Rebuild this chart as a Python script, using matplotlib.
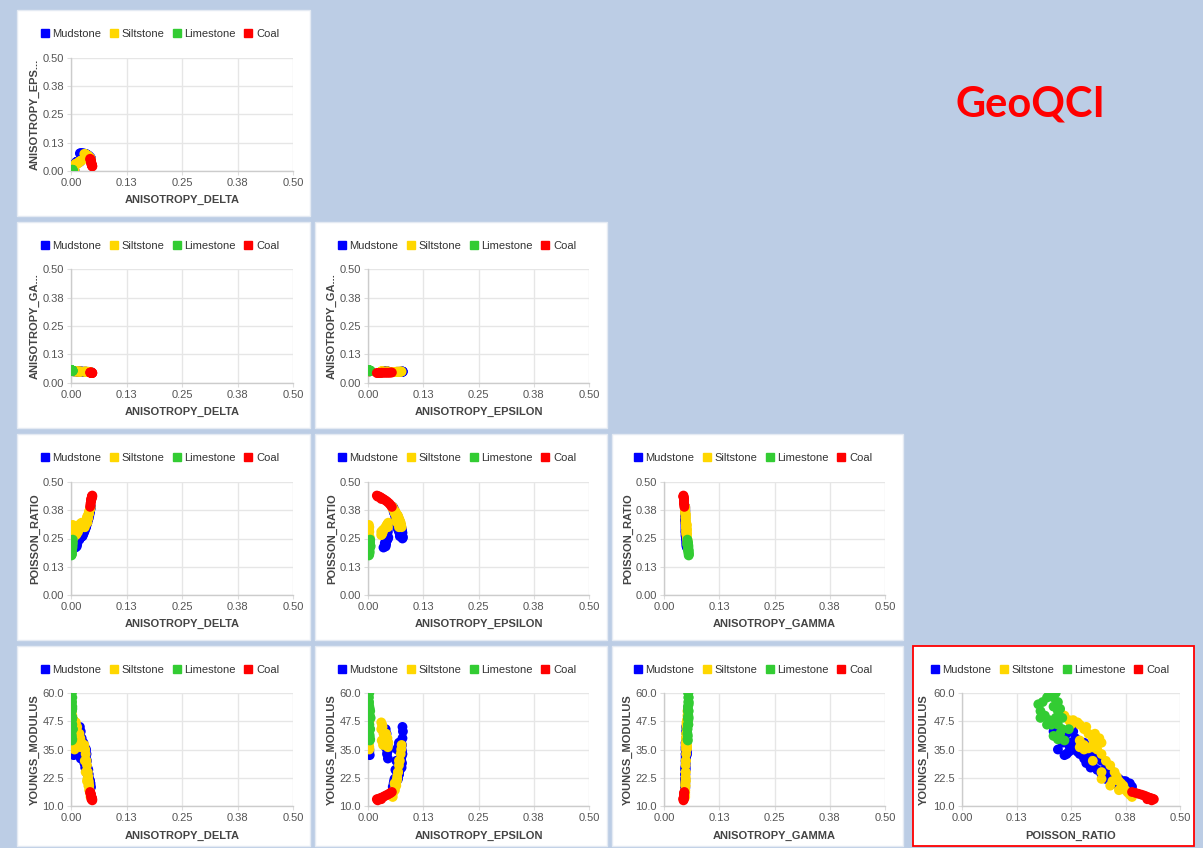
import matplotlib
matplotlib.use("Agg")
import matplotlib.pyplot as plt
from matplotlib.lines import Line2D
from matplotlib.patches import Rectangle

plt.rcParams["font.family"] = ["Liberation Sans", "DejaVu Sans"]

# variables in matrix order
VARIABLES = ["ANISOTROPY_DELTA", "ANISOTROPY_EPSILON", "ANISOTROPY_GAMMA",
             "POISSON_RATIO", "YOUNGS_MODULUS"]
Y_TITLES = ["ANISOTROPY_DELTA", "ANISOTROPY_EPS...", "ANISOTROPY_GA...",
            "POISSON_RATIO", "YOUNGS_MODULUS"]
LITHOLOGIES = ["Mudstone", "Siltstone", "Limestone", "Coal"]
COLORS = ["#0000ff", "#ffd700", "#33cc33", "#ff0000"]

ANIS_TICKS = [0.0, 0.125, 0.25, 0.375, 0.5]
ANIS_LABELS = ["0.00", "0.13", "0.25", "0.38", "0.50"]
YM_TICKS = [10.0, 22.5, 35.0, 47.5, 60.0]
YM_LABELS = ["10.0", "22.5", "35.0", "47.5", "60.0"]

# Mudstone samples
MUD_DELTA = [0.002, 0.004, 0.006, 0.008, 0.010, 0.012,
             0.012, 0.015, 0.018, 0.020, 0.016, 0.022, 0.014, 0.018,
             0.020, 0.022, 0.024, 0.026, 0.028, 0.030, 0.032, 0.033, 0.035,
             0.037, 0.038, 0.040, 0.041, 0.042, 0.043, 0.044,
             0.034, 0.036, 0.039, 0.041, 0.043, 0.028, 0.031,
             0.021, 0.019, 0.013, 0.014, 0.024, 0.027, 0.030, 0.032, 0.034,
             0.035, 0.037, 0.038, 0.040, 0.041, 0.043, 0.044, 0.045, 0.026, 0.029]
MUD_EPS = [0.002, 0.003, 0.004, 0.003, 0.035, 0.038,
           0.040, 0.042, 0.045, 0.040, 0.043, 0.045, 0.038, 0.044,
           0.078, 0.079, 0.078, 0.077, 0.076, 0.076, 0.075, 0.074, 0.072,
           0.070, 0.068, 0.065, 0.062, 0.060, 0.058, 0.057,
           0.066, 0.064, 0.062, 0.060, 0.059, 0.070, 0.068,
           0.046, 0.044, 0.040, 0.041, 0.077, 0.078, 0.077, 0.076, 0.075,
           0.074, 0.071, 0.070, 0.067, 0.065, 0.061, 0.058, 0.056, 0.072, 0.074]
MUD_GAMMA = [0.052, 0.052, 0.051, 0.051, 0.052, 0.052,
             0.051, 0.051, 0.050, 0.050, 0.050, 0.050, 0.051, 0.050,
             0.050, 0.050, 0.050, 0.049, 0.049, 0.049, 0.049, 0.049, 0.049,
             0.048, 0.048, 0.048, 0.048, 0.048, 0.048, 0.048,
             0.049, 0.049, 0.048, 0.048, 0.048, 0.049, 0.049,
             0.050, 0.050, 0.051, 0.051, 0.050, 0.049, 0.049, 0.049, 0.049,
             0.049, 0.048, 0.048, 0.048, 0.048, 0.048, 0.048, 0.048, 0.049, 0.049]
MUD_PR = [0.240, 0.245, 0.235, 0.220, 0.210, 0.220,
          0.230, 0.240, 0.250, 0.260, 0.270, 0.280, 0.230, 0.290,
          0.250, 0.255, 0.260, 0.265, 0.270, 0.280, 0.290, 0.300, 0.310,
          0.320, 0.330, 0.340, 0.350, 0.360, 0.370, 0.380,
          0.300, 0.320, 0.340, 0.360, 0.375, 0.280, 0.290,
          0.255, 0.245, 0.215, 0.225, 0.265, 0.275, 0.285, 0.295, 0.305,
          0.310, 0.330, 0.335, 0.350, 0.355, 0.370, 0.385, 0.390, 0.260, 0.280]
MUD_YM = [33.0, 34.0, 32.5, 35.0, 43.0, 41.0,
          40.0, 42.0, 38.0, 36.0, 33.0, 31.0, 38.0, 34.0,
          45.0, 43.0, 40.0, 37.0, 35.0, 32.0, 30.0, 28.0, 26.0,
          24.0, 22.0, 21.0, 20.0, 19.0, 18.0, 18.0,
          35.0, 30.0, 26.0, 22.0, 21.0, 38.0, 36.0,
          35.0, 37.0, 44.0, 42.0, 34.0, 33.0, 29.0, 27.0, 31.0,
          33.0, 27.0, 24.0, 24.0, 22.0, 21.0, 20.0, 18.5, 38.0, 36.0]

# Siltstone samples
SILT_DELTA = [0.001, 0.002, 0.004, 0.006, 0.008,
              0.010, 0.012, 0.015, 0.018, 0.020, 0.016, 0.022, 0.013,
              0.002, 0.003, 0.002, 0.004,
              0.030, 0.032, 0.033, 0.035, 0.036, 0.038, 0.039, 0.040,
              0.041, 0.042, 0.043, 0.044, 0.037, 0.039, 0.041,
              0.006, 0.011, 0.014, 0.019, 0.021, 0.024, 0.031, 0.033,
              0.036, 0.040, 0.044]
SILT_EPS = [0.001, 0.002, 0.002, 0.003, 0.003,
            0.032, 0.030, 0.035, 0.040, 0.043, 0.034, 0.045, 0.031,
            0.002, 0.003, 0.002, 0.003,
            0.076, 0.075, 0.074, 0.072, 0.070, 0.068, 0.066, 0.064,
            0.062, 0.059, 0.057, 0.055, 0.066, 0.064, 0.061,
            0.004, 0.030, 0.033, 0.041, 0.044, 0.046, 0.070, 0.068,
            0.065, 0.060, 0.056]
SILT_GAMMA = [0.052, 0.052, 0.052, 0.051, 0.051,
              0.051, 0.051, 0.051, 0.050, 0.050, 0.050, 0.050, 0.051,
              0.053, 0.053, 0.053, 0.052,
              0.050, 0.050, 0.050, 0.049, 0.049, 0.049, 0.049, 0.049,
              0.048, 0.048, 0.048, 0.048, 0.049, 0.049, 0.048,
              0.052, 0.051, 0.051, 0.050, 0.050, 0.050, 0.050, 0.049,
              0.049, 0.048, 0.048]
SILT_PR = [0.270, 0.290, 0.310, 0.300, 0.280,
           0.270, 0.280, 0.290, 0.300, 0.310, 0.280, 0.300, 0.270,
           0.225, 0.235, 0.245, 0.250,
           0.300, 0.310, 0.320, 0.330, 0.340, 0.350, 0.355, 0.360,
           0.370, 0.375, 0.380, 0.385, 0.320, 0.340, 0.360,
           0.255, 0.265, 0.285, 0.305, 0.315, 0.320, 0.300, 0.320,
           0.345, 0.365, 0.390]
SILT_YM = [36.0, 35.5, 37.0, 36.0, 35.0,
           46.0, 44.0, 42.0, 40.0, 38.0, 37.0, 36.0, 39.0,
           52.0, 50.0, 48.0, 46.0,
           37.0, 35.0, 33.0, 30.0, 28.0, 25.0, 23.0, 21.0,
           19.0, 17.0, 16.0, 15.0, 22.0, 19.0, 17.0,
           48.0, 47.0, 45.0, 42.0, 40.0, 38.0, 30.0, 25.0,
           21.0, 20.0, 14.0]

# Limestone samples
LIME_DELTA = [0.001, 0.002, 0.001, 0.002, 0.003, 0.001, 0.002, 0.003,
              0.002, 0.003, 0.004, 0.002, 0.003, 0.001, 0.002, 0.004,
              0.001, 0.002, 0.001, 0.002, 0.003, 0.003, 0.002, 0.003, 0.001]
LIME_EPS = [0.001, 0.002, 0.001, 0.003, 0.002, 0.004, 0.002, 0.003,
            0.005, 0.003, 0.004, 0.002, 0.006, 0.003, 0.004, 0.005,
            0.002, 0.003, 0.001, 0.002, 0.004, 0.003, 0.004, 0.005, 0.002]
LIME_GAMMA = [0.056, 0.056, 0.056, 0.055, 0.055, 0.055, 0.055, 0.054,
              0.054, 0.054, 0.053, 0.055, 0.054, 0.053, 0.054, 0.053,
              0.056, 0.056, 0.055, 0.055, 0.054, 0.054, 0.054, 0.053, 0.055]
LIME_PR = [0.180, 0.185, 0.195, 0.200, 0.210, 0.190, 0.200, 0.210,
           0.220, 0.220, 0.230, 0.205, 0.215, 0.225, 0.235, 0.245,
           0.175, 0.180, 0.215, 0.220, 0.225, 0.230, 0.210, 0.220, 0.195]
LIME_YM = [52.0, 56.0, 58.0, 60.0, 58.0, 50.0, 48.0, 54.0,
           52.0, 46.0, 44.0, 46.0, 49.0, 42.0, 39.0, 44.0,
           55.0, 49.0, 60.0, 56.0, 53.0, 49.0, 41.0, 39.5, 46.0]

# Coal samples
COAL_DELTA = [0.048, 0.047, 0.047, 0.046, 0.046, 0.045,
              0.045, 0.044, 0.044, 0.043, 0.048, 0.046]
COAL_EPS = [0.020, 0.024, 0.028, 0.032, 0.036, 0.040,
            0.044, 0.048, 0.051, 0.054, 0.022, 0.030]
COAL_GAMMA = [0.044, 0.044, 0.044, 0.045, 0.045, 0.045,
              0.045, 0.045, 0.046, 0.046, 0.044, 0.045]
COAL_PR = [0.440, 0.437, 0.433, 0.428, 0.423, 0.418,
           0.412, 0.405, 0.398, 0.390, 0.435, 0.425]
COAL_YM = [13.0, 13.2, 13.5, 13.8, 14.2, 14.6,
           15.0, 15.4, 15.8, 16.2, 12.5, 13.0]

SAMPLES = [
    [MUD_DELTA, MUD_EPS, MUD_GAMMA, MUD_PR, MUD_YM],
    [SILT_DELTA, SILT_EPS, SILT_GAMMA, SILT_PR, SILT_YM],
    [LIME_DELTA, LIME_EPS, LIME_GAMMA, LIME_PR, LIME_YM],
    [COAL_DELTA, COAL_EPS, COAL_GAMMA, COAL_PR, COAL_YM],
]

# layout in pixels
W, H = 1203, 848
BOX_X = [17, 315, 612, 913]
BOX_R = [310, 607, 903, 1194]
BOX_Y = [10, 222, 434, 646]
BOX_B = [216, 428, 640, 846]
PLOT_X0 = [71, 368, 664, 962]
PLOT_X1 = [293, 589, 885, 1180]
PLOT_Y0 = [58, 269, 482, 693]
PLOT_Y1 = [171, 383, 595, 806]
YTITLE_X = [35, 332, 628, 924]
LEGEND_X = [160, 457, 753, 1050]


def fx(px):
    return px / W


def fy(py):
    return 1 - py / H


def setup_axis(ax, ticks, labels, axis):
    if axis == "x":
        ax.set_xlim(ticks[0], ticks[-1])
        ax.set_xticks(ticks)
        ax.set_xticklabels(labels)
    else:
        ax.set_ylim(ticks[0], ticks[-1])
        ax.set_yticks(ticks)
        ax.set_yticklabels(labels)


fig = plt.figure(figsize=(W / 100, H / 100), dpi=100)
fig.patch.set_facecolor("#bccde5")

fig.text(fx(1030), fy(105), "GeoQCI", color="#ff0000", fontsize=30,
         fontweight="bold", family=["Lato", "DejaVu Sans"], ha="center", va="center")

handles = [Line2D([], [], marker="s", linestyle="", color=c, markersize=6)
           for c in COLORS]

for row in range(4):
    yi = row + 1
    for col in range(row + 1):
        xi = col
        is_last = (row == 3 and col == 3)
        fig.patches.append(Rectangle(
            (fx(BOX_X[col]), fy(BOX_B[row])),
            fx(BOX_R[col] - BOX_X[col]), (BOX_B[row] - BOX_Y[row]) / H,
            transform=fig.transFigure, facecolor="white",
            edgecolor="#ff0000" if is_last else "#e4eaf3",
            linewidth=1.3 if is_last else 1.0, zorder=-5))

        ax = fig.add_axes([fx(PLOT_X0[col]), fy(PLOT_Y1[row]),
                           fx(PLOT_X1[col] - PLOT_X0[col]),
                           (PLOT_Y1[row] - PLOT_Y0[row]) / H])
        ax.set_facecolor("white")
        for lith, color in zip(SAMPLES, COLORS):
            ax.scatter(lith[xi], lith[yi], s=50, color=color,
                       edgecolors="none", zorder=3)

        if VARIABLES[xi] == "YOUNGS_MODULUS":
            setup_axis(ax, YM_TICKS, YM_LABELS, "x")
        else:
            setup_axis(ax, ANIS_TICKS, ANIS_LABELS, "x")
        if VARIABLES[yi] == "YOUNGS_MODULUS":
            setup_axis(ax, YM_TICKS, YM_LABELS, "y")
        else:
            setup_axis(ax, ANIS_TICKS, ANIS_LABELS, "y")

        ax.grid(True, color="#e6e6e6", linewidth=1.0, zorder=0)
        ax.set_axisbelow(True)
        for side in ["top", "right"]:
            ax.spines[side].set_visible(False)
        for side in ["left", "bottom"]:
            ax.spines[side].set_color("#cccccc")
            ax.spines[side].set_linewidth(1.0)
        ax.tick_params(axis="both", labelsize=8, labelcolor="#555555",
                       color="#dddddd", length=3, pad=2)

        fig.text(fx((PLOT_X0[col] + PLOT_X1[col]) / 2), fy(BOX_Y[row] + 190),
                 VARIABLES[xi], ha="center", va="center", fontsize=8,
                 fontweight="bold", color="#444444")
        fig.text(fx(YTITLE_X[col]), fy((PLOT_Y0[row] + PLOT_Y1[row]) / 2),
                 Y_TITLES[yi], ha="center", va="center", fontsize=8,
                 fontweight="bold", color="#444444", rotation=90)

        fig.legend(handles, LITHOLOGIES, loc="center", ncol=4, frameon=False,
                   bbox_to_anchor=(fx(LEGEND_X[col]), fy(BOX_Y[row] + 24)),
                   fontsize=8, handlelength=0.7, handletextpad=0.35,
                   columnspacing=0.75, borderpad=0, labelcolor="#333333")

fig.savefig("out.png", dpi=100, facecolor=fig.get_facecolor())
